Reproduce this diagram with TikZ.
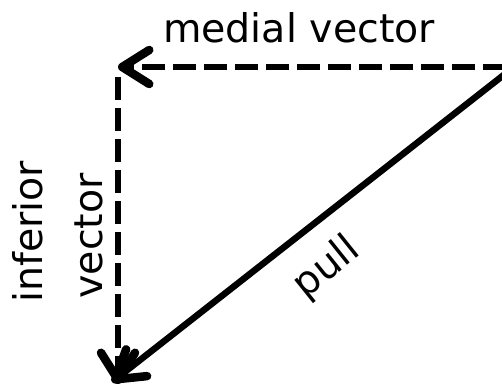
\documentclass[tikz,border=0pt]{standalone}
\usepackage{fontspec}
\setmainfont{DejaVu Sans}
\usetikzlibrary{arrows.meta}
\begin{document}
\begin{tikzpicture}[x=1pt,y=-1pt,
  vec/.style={line width=6.5pt,-{Straight Barb[length=27pt,width=34pt,line width=2pt 1,line cap=round,line join=round]}},
  dsh/.style={dash pattern=on 23pt off 8pt},
  lbl/.style={inner sep=0pt,font=\fontsize{39.5}{46}\selectfont}]
\useasboundingbox (0,0) rectangle (502,388);
\coordinate (R) at (506,67);
\coordinate (Rs) at (505,74);
\coordinate (C) at (118,67);
\coordinate (Ct) at (118,77);
\coordinate (D) at (118,384);
\coordinate (P) at (112,382);
\draw[vec,dsh] (R) -- (C);
\draw[vec,dsh] (Ct) -- (D);
\draw[vec] (Rs) -- (P);
\node[lbl,anchor=base] (m) at (299,42) {medial vector};
\node[lbl,anchor=base,rotate=90] (i1) at (42,232) {inferior};
\node[lbl,anchor=base,rotate=90] (i2) at (102,236) {vector};
\node[lbl,rotate=38.7] (p) at (327,268) {pull};
\end{tikzpicture}
\end{document}
